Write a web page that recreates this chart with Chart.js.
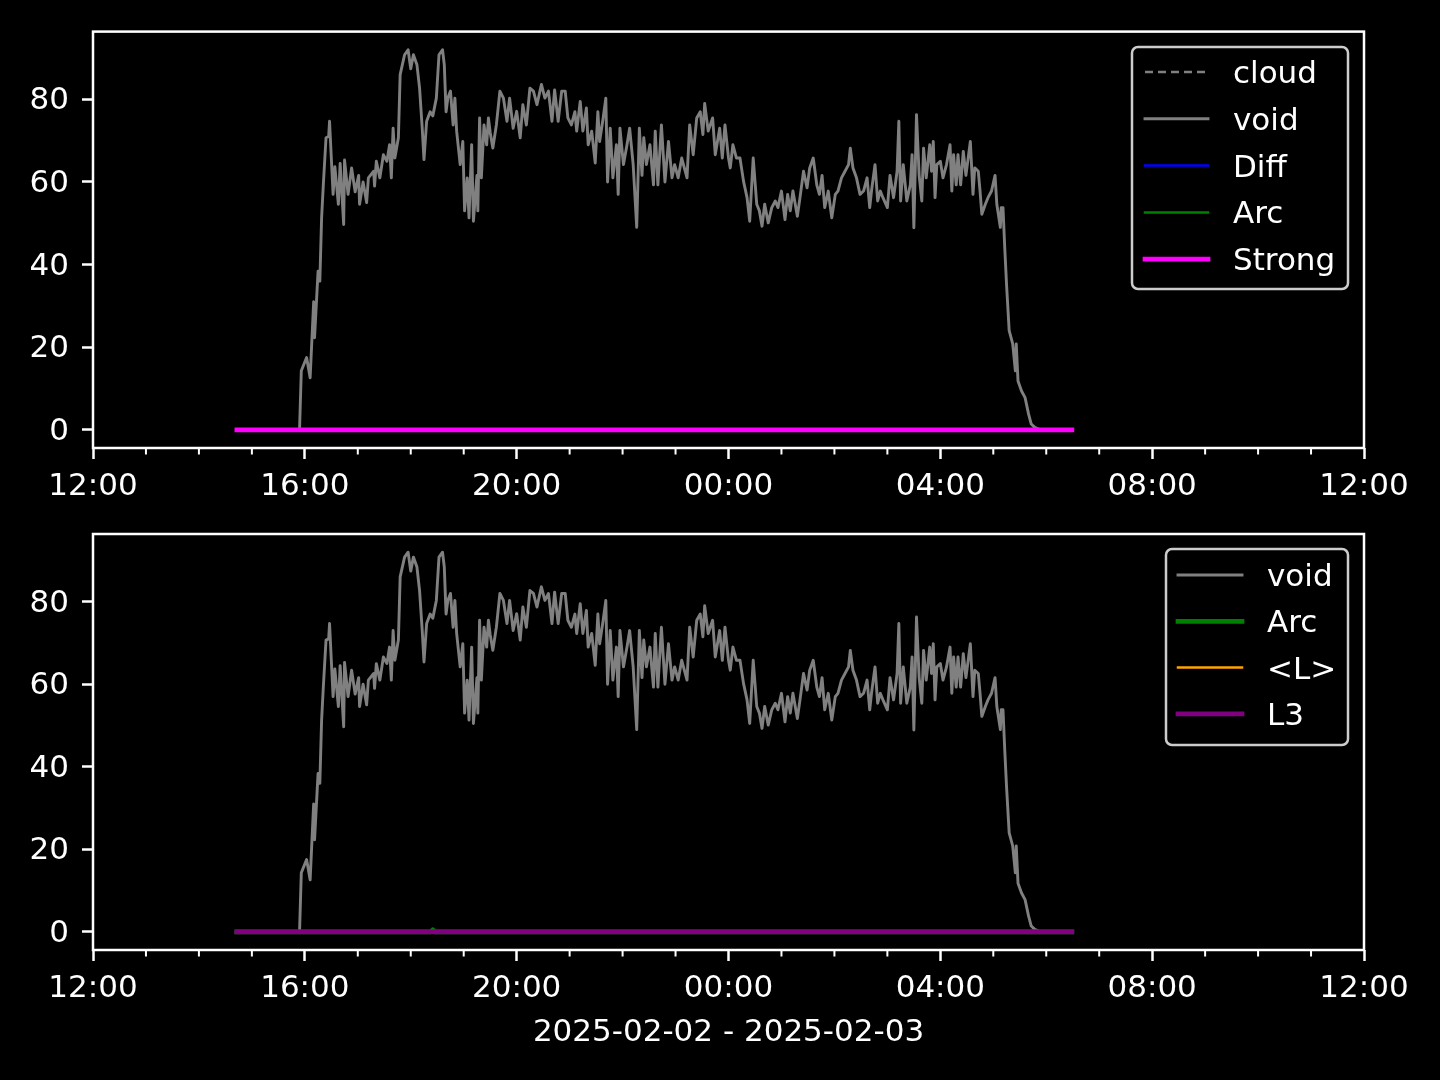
<!DOCTYPE html>
<html>
<head>
<meta charset="utf-8">
<script src="https://cdn.jsdelivr.net/npm/chart.js@4.4.1/dist/chart.umd.min.js"></script>
<style>
  html, body { margin: 0; padding: 0; background: #000; }
  body { width: 1440px; height: 1080px; position: relative; overflow: hidden; }
  canvas { position: absolute; left: 0; }
  #topChart { top: 0; }
  #bottomChart { top: 500px; }
</style>
</head>
<body>
<canvas id="topChart" width="1440" height="500"></canvas>
<canvas id="bottomChart" width="1440" height="580"></canvas>
<script>
// x axis: hours after 2025-02-02 12:00
const xTickHours = [0, 4, 8, 12, 16, 20, 24];
const xTickLabels = ['12:00', '16:00', '20:00', '00:00', '04:00', '08:00', '12:00'];
const xMinorHours = [1, 2, 3, 5, 6, 7, 9, 10, 11, 13, 14, 15, 17, 18, 19, 21, 22, 23];
const xLabel = '2025-02-02 - 2025-02-03';
const yTicks = [0, 20, 40, 60, 80];
const yMin = -4.4;
const yMax = 96.4;

// "void" series
const voidTimes = [
  '14:43','15:54','15:56','16:02','16:06','16:10','16:11','16:15','16:17','16:19',
  '16:21','16:24','16:27','16:28','16:30','16:32','16:34','16:38','16:40','16:44',
  '16:45','16:49','16:53','16:57','17:01','17:02','17:06','17:10','17:12','17:18',
  '17:19','17:21','17:25','17:29','17:33','17:36','17:38','17:40','17:42','17:46',
  '17:48','17:53','17:57','18:00','18:03','18:07','18:10','18:13','18:15','18:18',
  '18:22','18:25','18:29','18:32','18:36','18:38','18:40','18:42','18:45','18:48',
  '18:50','18:52','18:56','18:59','19:01','19:04','19:06','19:09','19:11','19:15',
  '19:16','19:18','19:20','19:23','19:26','19:28','19:30','19:33','19:37','19:41',
  '19:45','19:49','19:52','19:56','20:00','20:04','20:07','20:11','20:15','20:19',
  '20:23','20:28','20:32','20:36','20:40','20:43','20:47','20:51','20:55','20:58',
  '21:02','21:06','21:08','21:12','21:15','21:19','21:21','21:25','21:29','21:32',
  '21:34','21:38','21:41','21:43','21:46','21:49','21:53','21:55','21:57','22:01',
  '22:05','22:08','22:12','22:16','22:19','22:22','22:24','22:27','22:31','22:35',
  '22:37','22:40','22:44','22:48','22:52','22:56','22:59','23:03','23:07','23:13',
  '23:16','23:20','23:24','23:28','23:31','23:33','23:37','23:42','23:45','23:50',
  '23:53','23:56','00:00','00:02','00:05','00:09','00:13','00:17','00:21','00:24',
  '00:28','00:32','00:35','00:38','00:41','00:45','00:49','00:53','00:56','01:00',
  '01:04','01:07','01:10','01:13','01:18','01:21','01:25','01:29','01:32','01:36',
  '01:38','01:40','01:43','01:46','01:49','01:53','01:57','02:01','02:04','02:08',
  '02:12','02:16','02:18','02:21','02:25','02:29','02:33','02:37','02:40','02:42',
  '02:46','02:49','02:52','02:55','03:00','03:03','03:07','03:11','03:13','03:15',
  '03:18','03:22','03:26','03:28','03:30','03:33','03:36','03:39','03:41','03:44',
  '03:48','03:50','03:52','03:54','03:56','04:00','04:03','04:07','04:11','04:13',
  '04:15','04:18','04:20','04:23','04:26','04:29','04:34','04:37','04:39','04:43',
  '04:45','04:47','04:51','04:54','04:58','05:02','05:04','05:08','05:09','05:11',
  '05:13','05:15','05:18','05:22','05:25','05:26','05:28','05:32','05:36','05:40',
  '05:43','05:47','05:53','06:29'
];
const voidValues = [
  0, 0, 14.3, 17.5, 12.6, 31, 22.3, 38.4, 36, 51.3,
  59.5, 70.7, 71, 74.7, 65.8, 57, 63.7, 54.6, 64.5, 49.7,
  65.3, 57, 63.4, 57.6, 61.6, 54.6, 60, 55, 61, 62.6,
  59, 65, 61, 66.6, 65, 69, 61, 73, 65.8, 70.7,
  86, 90.8, 92, 87.4, 90.8, 88.4, 82.7, 73, 65.4, 74.7,
  77, 76, 80.3, 90.8, 92, 88.4, 77, 80.3, 82, 73.8,
  80.3, 72.3, 64.2, 69.8, 53, 61, 51.3, 69, 50.5, 61.6,
  53, 75.5, 61, 73.8, 69, 75.5, 72, 68.2, 73.8, 82,
  80.3, 74.7, 80.3, 73, 77.1, 70.7, 78.7, 73.8, 82.7, 82,
  78.7, 83.6, 80.3, 82, 74.7, 82.3, 74.7, 82, 82, 75.5,
  73.8, 77, 72.3, 79.5, 72.3, 77.9, 69, 72.3, 64.6, 77,
  69.8, 75.5, 80.3, 60, 73, 61, 69, 57, 73, 64.2,
  69, 73, 64.2, 49, 73, 61.6, 70.7, 64.2, 69, 59.3,
  72.3, 59.3, 73.8, 60, 69.8, 61, 64.2, 61, 65.8, 61,
  73.8, 66.6, 75.5, 77, 71.5, 79, 72.3, 75.5, 66.6, 73,
  65.8, 73.8, 65.8, 63.4, 69, 65.8, 65.8, 60.2, 56.2, 50.5,
  65.8, 54.6, 53, 49.3, 54.6, 50.1, 53.8, 55.4, 53.8, 57.8,
  50.9, 57, 53, 57.8, 51.7, 56.2, 62.6, 58.6, 63.4, 65.8,
  62.6, 59.3, 57, 61.6, 53.8, 57.8, 51.3, 57, 57.8, 61,
  62.6, 64.2, 68.2, 63.4, 61, 57, 57.8, 61, 53.8, 57.8,
  64.2, 55.4, 57.8, 56.2, 53.8, 61.6, 56.2, 62.6, 74.7, 55.4,
  64.2, 55.4, 59.3, 66.6, 48.9, 76.3, 61.6, 55.4, 68.2, 61,
  69, 62.6, 69.8, 56.2, 64.2, 65, 61, 64.2, 69, 57.8,
  66.6, 59.3, 66.6, 59.3, 67.4, 61.6, 69.8, 57, 63.4, 62.6,
  57.8, 52.2, 54.6, 56.2, 57.8, 61.6, 54.6, 49, 53.8, 53.8,
  44, 35.2, 24, 20.8, 14.3, 20.8, 11.8, 9.4, 7.8, 3.8,
  1.4, 0.6, 0, 0
];

// the other series stay flat at zero over the same window
const flatTimes = ['14:43', '06:29'];
const cloudValues = [0, 0];
const diffValues = [0, 0];
const arcValues = [0, 0];
const strongValues = [0, 0];
const avgLValues = [0, 0];
const l3Values = [0, 0];
const arcLowerTimes = ['14:43', '18:23', '18:25', '18:27', '06:29'];
const arcLowerValues = [0, 0, 0.5, 0, 0];

function toHours(t) {
  const [hh, mm] = t.split(':').map(Number);
  let h = hh + mm / 60 - 12;
  if (h < 0) h += 24;
  return h;
}

function toPoints(times, values) {
  return times.map((t, i) => ({ x: toHours(t), y: values[i] }));
}

Chart.defaults.font.family = '"DejaVu Sans", sans-serif';
Chart.defaults.font.size = 31;
Chart.defaults.color = '#ffffff';

function lineSet(label, times, values, color, width, order, extra) {
  return Object.assign({
    label: label,
    data: toPoints(times, values),
    borderColor: color,
    backgroundColor: color,
    borderWidth: width,
    pointRadius: 0,
    tension: 0,
    borderJoinStyle: 'round',
    borderCapStyle: 'square',
    order: order
  }, extra || {});
}

function makeScales(xHeight, withTitle) {
  const grid = { drawOnChartArea: false, tickLength: 11, tickColor: '#ffffff', tickWidth: 2.5 };
  return {
    x: {
      type: 'linear',
      min: 0,
      max: 24,
      afterBuildTicks: s => { s.ticks = xTickHours.map(v => ({ value: v })); },
      afterFit: s => { s.height = xHeight; },
      ticks: {
        autoSkip: false,
        maxRotation: 0,
        padding: 9,
        callback: v => xTickLabels[xTickHours.indexOf(v)]
      },
      grid: grid,
      border: { display: false },
      title: {
        display: withTitle,
        text: xLabel,
        color: '#ffffff',
        padding: { top: 0, bottom: 28 }
      }
    },
    y: {
      min: yMin,
      max: yMax,
      afterBuildTicks: s => { s.ticks = yTicks.map(v => ({ value: v })); },
      afterFit: s => { s.width = 93; },
      ticks: { padding: 13, labelOffset: 2 },
      grid: grid,
      border: { display: false }
    }
  };
}

// box around the plot and the hourly minor ticks
const framePlugin = {
  id: 'frame',
  afterDatasetsDraw(chart) {
    const { ctx, chartArea } = chart;
    const xs = chart.scales.x;
    ctx.save();
    ctx.strokeStyle = '#ffffff';
    ctx.lineWidth = 2;
    xMinorHours.forEach(h => {
      const px = xs.getPixelForValue(h);
      ctx.beginPath();
      ctx.moveTo(px, chartArea.bottom);
      ctx.lineTo(px, chartArea.bottom + 6.5);
      ctx.stroke();
    });
    ctx.lineWidth = 2.5;
    ctx.strokeRect(chartArea.left, chartArea.top, chartArea.right - chartArea.left, chartArea.bottom - chartArea.top);
    ctx.restore();
  }
};

function roundedRect(ctx, x, y, w, h, r) {
  ctx.beginPath();
  ctx.moveTo(x + r, y);
  ctx.arcTo(x + w, y, x + w, y + h, r);
  ctx.arcTo(x + w, y + h, x, y + h, r);
  ctx.arcTo(x, y + h, x, y, r);
  ctx.arcTo(x, y, x + w, y, r);
  ctx.closePath();
}

// matplotlib-like framed legend inside the axes
const boxLegendPlugin = {
  id: 'boxLegend',
  afterDraw(chart, args, o) {
    const ctx = chart.ctx;
    ctx.save();
    roundedRect(ctx, o.x1, o.y1, o.x2 - o.x1, o.y2 - o.y1, 6);
    ctx.fillStyle = 'rgba(0,0,0,0.8)';
    ctx.fill();
    ctx.strokeStyle = '#cccccc';
    ctx.lineWidth = 2.5;
    ctx.stroke();
    chart.data.datasets.forEach((ds, i) => {
      const y = o.firstRow + i * o.rowGap;
      ctx.beginPath();
      ctx.setLineDash(ds.borderDash || []);
      ctx.lineCap = ds.borderDash ? 'butt' : 'square';
      ctx.strokeStyle = ds.borderColor;
      ctx.lineWidth = ds.borderWidth;
      ctx.moveTo(o.handleX1, y);
      ctx.lineTo(o.handleX2, y);
      ctx.stroke();
      ctx.setLineDash([]);
      ctx.fillStyle = '#ffffff';
      ctx.font = '31px "DejaVu Sans"';
      ctx.textAlign = 'left';
      ctx.textBaseline = 'middle';
      ctx.fillText(ds.label, o.textX, y + 3);
    });
    ctx.restore();
  }
};

new Chart(document.getElementById('topChart'), {
  type: 'line',
  data: {
    datasets: [
      lineSet('cloud', flatTimes, cloudValues, '#808080', 2.5, 4, { borderDash: [8, 5], borderCapStyle: 'butt' }),
      lineSet('void', voidTimes, voidValues, '#808080', 2.9, 3),
      lineSet('Diff', flatTimes, diffValues, '#0000ff', 2.5, 2),
      lineSet('Arc', flatTimes, arcValues, '#008000', 2.5, 1),
      lineSet('Strong', flatTimes, strongValues, '#ff00ff', 4.7, 0)
    ]
  },
  options: {
    responsive: false,
    animation: false,
    devicePixelRatio: 1,
    layout: { padding: { top: 31, right: 76, left: 0, bottom: 0 } },
    scales: makeScales(52, false),
    plugins: {
      legend: { display: false },
      tooltip: { enabled: false },
      boxLegend: { x1: 1132, y1: 47, x2: 1348, y2: 289, firstRow: 72, rowGap: 46.8, handleX1: 1145, handleX2: 1208, textX: 1233 }
    }
  },
  plugins: [framePlugin, boxLegendPlugin]
});

new Chart(document.getElementById('bottomChart'), {
  type: 'line',
  data: {
    datasets: [
      lineSet('void', voidTimes, voidValues, '#808080', 2.9, 3),
      lineSet('Arc', arcLowerTimes, arcLowerValues, '#008000', 4.7, 2),
      lineSet('<L>', flatTimes, avgLValues, '#ffa500', 2.5, 1),
      lineSet('L3', flatTimes, l3Values, '#800080', 4.7, 0)
    ]
  },
  options: {
    responsive: false,
    animation: false,
    devicePixelRatio: 1,
    layout: { padding: { top: 34, right: 76, left: 0, bottom: 0 } },
    scales: makeScales(130, true),
    plugins: {
      legend: { display: false },
      tooltip: { enabled: false },
      boxLegend: { x1: 1166, y1: 49, x2: 1348, y2: 245, firstRow: 75, rowGap: 46.3, handleX1: 1178, handleX2: 1242, textX: 1267 }
    }
  },
  plugins: [framePlugin, boxLegendPlugin]
});
</script>
</body>
</html>
